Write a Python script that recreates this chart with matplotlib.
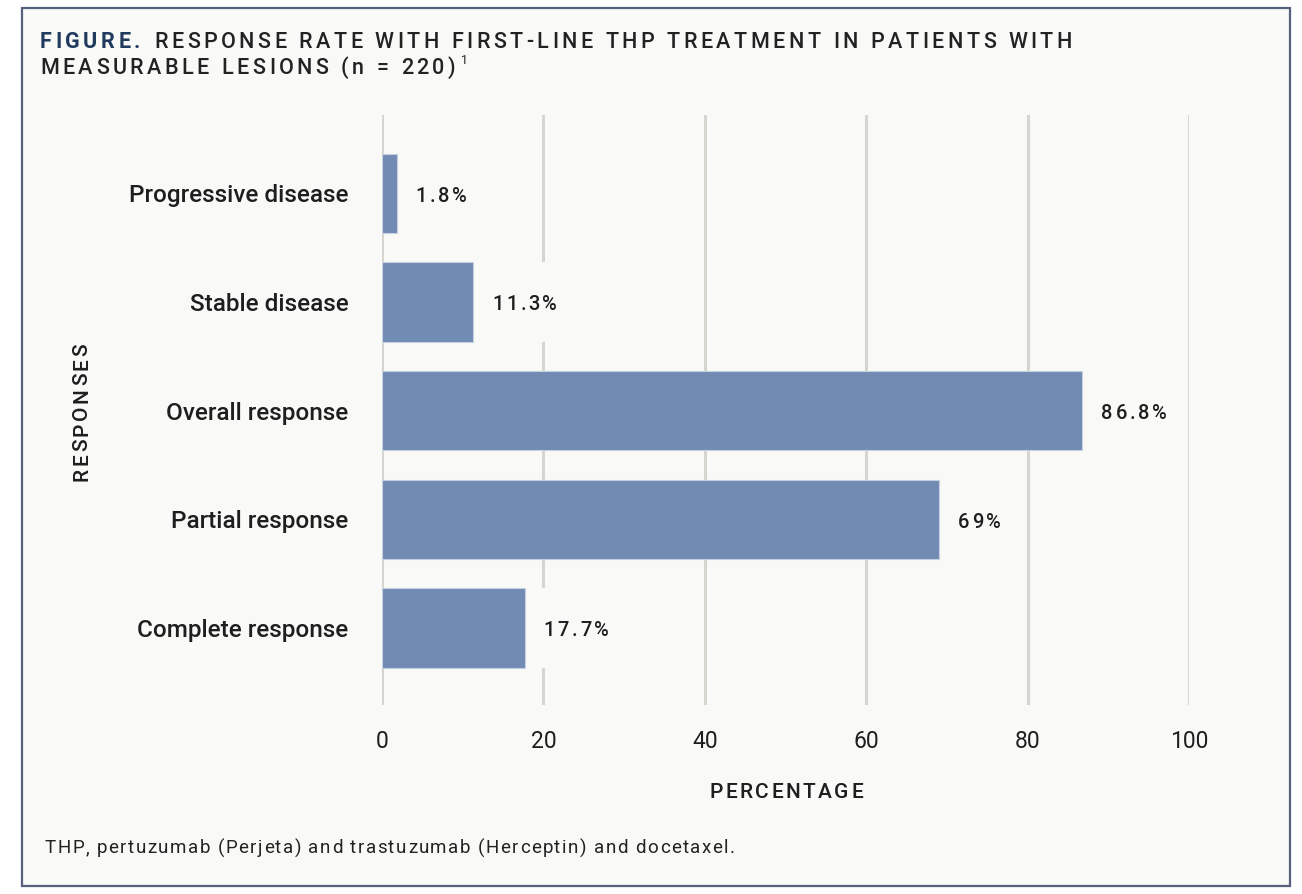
import matplotlib.pyplot as plt
from matplotlib.patches import Rectangle
from matplotlib.font_manager import FontProperties

# Dados
categorias = ['Progressive disease', 'Stable disease', 'Overall response',
              'Partial response', 'Complete response']
valores = [1.8, 11.3, 86.8, 69, 17.7]
rotulos = ['1.8%', '11.3%', '86.8%', '69%', '17.7%']
xticks = [0, 20, 40, 60, 80, 100]

bg = '#f9f9f7'
bar_color = '#718bb3'
grid_color = '#d6d6d1'
text_color = '#1e1e1e'

plt.rcParams['font.family'] = ['Roboto', 'DejaVu Sans']

W, H = 1302, 894
fig = plt.figure(figsize=(W / 100, H / 100), dpi=100)
fig.patch.set_facecolor('white')
renderer = fig.canvas.get_renderer()


def texto_espacado(x, y, s, esp, size, weight='normal', color=text_color,
                   ha='left', rotation=0):
    # escreve letra a letra com espaçamento extra (em pixels)
    prop = FontProperties(family=['Roboto', 'DejaVu Sans'], size=size, weight=weight)
    larg = [renderer.get_text_width_height_descent(c, prop, ismath=False)[0] for c in s]
    total = sum(larg) + esp * (len(s) - 1)
    pos = 0.0
    if ha == 'center':
        pos = -total / 2
    elif ha == 'right':
        pos = -total
    for c, w in zip(s, larg):
        if rotation == 90:
            fig.text(x / W, 1 - (y - pos) / H, c, fontproperties=prop, color=color,
                     rotation=90, ha='center', va='bottom')
        else:
            fig.text((x + pos) / W, 1 - y / H, c, fontproperties=prop, color=color,
                     ha='left', va='center')
        pos += w + esp
    return x + pos - esp


# Moldura
frame = Rectangle((22 / W, 1 - 886 / H), (1290 - 22) / W, (886 - 8) / H,
                  transform=fig.transFigure, facecolor=bg, edgecolor='#56627c',
                  linewidth=1.6, zorder=-10)
fig.patches.append(frame)

ax = fig.add_axes([382 / W, 1 - 705 / H, (1189 - 382) / W, (705 - 115) / H])
ax.set_facecolor('none')

y = list(range(len(categorias)))
ax.barh(y, valores, height=0.73, color=bar_color, edgecolor='#c5d0e0',
        linewidth=0.8, zorder=3)
# fundo atrás dos rótulos (interrompe a grade)
ax.barh(y, [8] * len(y), left=[v + 1.3 for v in valores], height=0.73,
        color=bg, linewidth=0, zorder=1)

for xt in xticks:
    ax.axvline(xt, color=grid_color, linewidth=2.2, zorder=0)

ax.set_xlim(0, 100)
ax.set_ylim(4.71, -0.72)
ax.set_yticks(y)
ax.set_yticklabels(categorias, fontsize=17.5, fontweight='medium', color=text_color)
ax.set_xticks(xticks)
ax.set_xticklabels([str(t) for t in xticks], fontsize=16.5, color=text_color)
ax.tick_params(axis='both', length=0)
ax.tick_params(axis='y', pad=24)
ax.tick_params(axis='x', pad=18)
for s in ax.spines.values():
    s.set_visible(False)

# Rótulos dos valores
for yi, v, lab in zip(y, valores, rotulos):
    px, py = ax.transData.transform((v, yi))
    texto_espacado(px + 19, H - py + 3, lab, 2.6, 14.5, weight='medium')

texto_espacado(786, 793, 'PERCENTAGE', 2.5, 15, weight='medium', ha='center')
texto_espacado(82, 412, 'RESPONSES', 2.6, 15, weight='medium', ha='center',
               rotation=90)

# Titulo
x_fim = texto_espacado(40, 42, 'FIGURE.', 3.5, 15.5, weight='bold', color='#1f3a5c')
texto_espacado(x_fim + 14, 42,
               'RESPONSE RATE WITH FIRST-LINE THP TREATMENT IN PATIENTS WITH',
               3.5, 15.5, weight='medium', color='#222222')
x_fim = texto_espacado(40, 68, 'MEASURABLE LESIONS (n = 220)', 3.5, 15.5,
                       weight='medium', color='#222222')
fig.text((x_fim + 5) / W, 1 - 61 / H, '1', fontsize=9, color='#222222',
         ha='left', va='center')

texto_espacado(45, 848,
               'THP, pertuzumab (Perjeta) and trastuzumab (Herceptin) and docetaxel.',
               1.45, 13.5, color='#222222')

plt.savefig('out.png', dpi=100, facecolor=fig.get_facecolor())
